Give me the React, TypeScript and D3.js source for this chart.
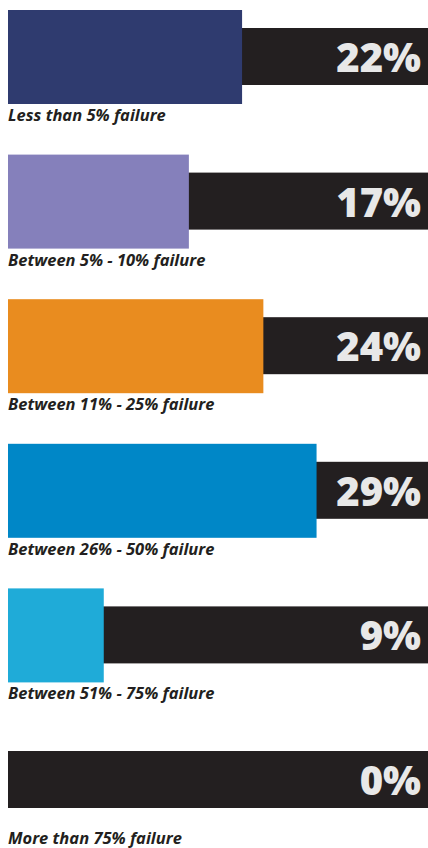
import React, { useEffect, useRef } from 'react';
import * as d3 from 'd3';

// failure-rate buckets and share of respondents in each
const categories = [
  'Less than 5% failure',
  'Between 5% - 10% failure',
  'Between 11% - 25% failure',
  'Between 26% - 50% failure',
  'Between 51% - 75% failure',
  'More than 75% failure',
];
const values = [22, 17, 24, 29, 9, 0];
const colors = ['#2f3b6f', '#8580bb', '#e98c1f', '#0087c7', '#1fabd8', '#2f3b6f'];

const App = () => {
  const svgRef = useRef<SVGSVGElement>(null);

  useEffect(() => {
    const width = 428;
    const height = 848;
    const left = 8;

    const svg = d3.select(svgRef.current);
    svg.selectAll('*').remove();
    svg.attr('width', width).attr('height', height);

    // row position (top of the coloured block)
    const yScale = d3.scalePoint<string>().domain(categories).range([10, 733]);

    // bar length for a percentage
    const xScale = d3.scaleLinear().domain([0, 100]).range([0, 1064]);

    const rows = svg
      .selectAll('g.row')
      .data(categories)
      .join('g')
      .attr('class', 'row')
      .attr('transform', (d) => `translate(0, ${yScale(d)})`);

    // dark track behind
    rows
      .append('rect')
      .attr('x', left)
      .attr('y', 18)
      .attr('width', width - left)
      .attr('height', 57)
      .attr('fill', '#231f20');

    // coloured value block
    rows
      .append('rect')
      .attr('x', left)
      .attr('y', 0)
      .attr('width', (d, i) => xScale(values[i]))
      .attr('height', 94)
      .attr('fill', (d, i) => colors[i]);

    // percentage
    rows
      .append('text')
      .attr('x', 421)
      .attr('y', 62)
      .attr('text-anchor', 'end')
      .attr('font-family', '"Open Sans", sans-serif')
      .attr('font-weight', 800)
      .attr('font-size', 40)
      .attr('fill', '#e8e8e8')
      .text((d, i) => `${values[i]}%`);

    // category label
    rows
      .append('text')
      .attr('x', left)
      .attr('y', 111)
      .attr('font-family', '"Open Sans", sans-serif')
      .attr('font-weight', 700)
      .attr('font-style', 'italic')
      .attr('font-size', 16.5)
      .attr('fill', '#231f20')
      .text((d) => d);
  }, []);

  return <svg ref={svgRef} style={{ position: 'absolute', left: 0, top: 0 }}></svg>;
};

export default App;
